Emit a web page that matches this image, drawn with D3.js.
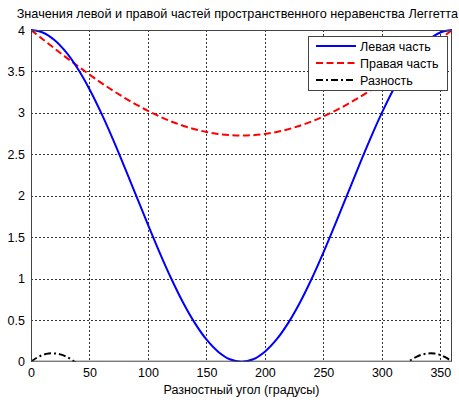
<!DOCTYPE html>
<html><head><meta charset="utf-8">
<script src="https://cdn.jsdelivr.net/npm/d3@7"></script>
<style>
html,body{margin:0;padding:0;background:#fff;}
svg{display:block;font-family:"Liberation Sans",Arial,sans-serif;}
</style></head>
<body><svg id="c" width="459" height="400"></svg>
<script>
const titleText = "Значения левой и правой частей пространственного неравенства Леггетта";
const xLabel = "Разностный угол (градусы)";
const seriesNames = ["Левая часть","Правая часть","Разность"];
const xTicks = [0,50,100,150,200,250,300,350];
const yTicks = [0,0.5,1,1.5,2,2.5,3,3.5,4];

const angles = [0,10,20,30,40,50,60,70,80,90,100,110,120,130,140,150,160,170,180,
  190,200,210,220,230,240,250,260,270,280,290,300,310,320,330,340,350,360];
const leftVals = [4,3.970,3.879,3.732,3.532,3.286,3.0,2.684,2.347,2.0,1.653,1.316,1.0,0.714,0.468,0.268,0.121,0.030,0,
  0.030,0.121,0.268,0.468,0.714,1.0,1.316,1.653,2.0,2.347,2.684,3.0,3.286,3.532,3.732,3.879,3.970,4];
const rightVals = [4,3.889,3.779,3.670,3.565,3.462,3.363,3.270,3.182,3.100,3.025,2.957,2.897,2.846,2.804,2.770,2.746,2.732,2.727,
  2.732,2.746,2.770,2.804,2.846,2.897,2.957,3.025,3.100,3.182,3.270,3.363,3.462,3.565,3.670,3.779,3.889,4];
const diffAngles = [0,5,10,15,20,25,30,35,40,45,50,60,70,80,90,100,110,120,130,140,150,160,170,180,
  190,200,210,220,230,240,250,260,270,280,290,300,310,315,320,325,330,335,340,345,350,355,360];
const diffVals = [0,0.048,0.081,0.098,0.100,0.088,0.062,0.021,-0.033,-0.099,-0.176,-0.363,-0.586,-0.835,-1.100,-1.372,-1.641,-1.897,-2.132,-2.336,-2.502,-2.625,-2.702,-2.727,
  -2.702,-2.625,-2.502,-2.336,-2.132,-1.897,-1.641,-1.372,-1.100,-0.835,-0.586,-0.363,-0.176,-0.099,-0.033,0.021,0.062,0.088,0.100,0.098,0.081,0.048,0];

const L=31, R=452, T=30, B=361.7;
const svg = d3.select("#c");
const x = d3.scaleLinear().domain([0,360]).range([L,R]);
const y = d3.scaleLinear().domain([0,4]).range([B,T]);
const FS = "12.5px";

// grid
const grid = svg.append("g");
grid.selectAll("line.gx").data(xTicks.filter(d=>d>0 && d<360)).enter().append("line")
  .attr("x1",d=>Math.round(x(d))+0.5).attr("x2",d=>Math.round(x(d))+0.5).attr("y1",T).attr("y2",B)
  .attr("stroke","#333").attr("stroke-width",1).attr("stroke-dasharray","2,2");
grid.selectAll("line.gy").data(yTicks.filter(d=>d>0 && d<4)).enter().append("line")
  .attr("y1",d=>Math.round(y(d))+0.5).attr("y2",d=>Math.round(y(d))+0.5).attr("x1",L).attr("x2",R)
  .attr("stroke","#333").attr("stroke-width",1).attr("stroke-dasharray","2,2");

// axes
const xAxis = d3.axisBottom(x).tickValues(xTicks).tickSize(0).tickPadding(6);
const gx = svg.append("g").attr("transform",`translate(0,${B})`).call(xAxis);
gx.select(".domain").remove();
gx.selectAll("text").attr("font-size",FS).attr("font-family","Liberation Sans, Arial").attr("fill","#000");
const yAxis = d3.axisLeft(y).tickValues(yTicks).tickSize(0).tickPadding(6).tickFormat(d3.format("~g"));
const gy = svg.append("g").attr("transform",`translate(${L},0)`).call(yAxis);
gy.select(".domain").remove();
gy.selectAll("text").attr("font-size",FS).attr("font-family","Liberation Sans, Arial").attr("fill","#000");

// clip
svg.append("clipPath").attr("id","clip").append("rect").attr("x",L).attr("y",T-2).attr("width",R-L).attr("height",B-T+2);

const line = d3.line().x(d=>x(d[0])).y(d=>y(d[1])).curve(d3.curveCatmullRom.alpha(0.5));
const plot = svg.append("g").attr("clip-path","url(#clip)");
plot.append("path").datum(angles.map((a,i)=>[a,rightVals[i]])).attr("d",line)
  .attr("fill","none").attr("stroke","#ff0000").attr("stroke-width",2).attr("stroke-dasharray","7,3.5");
plot.append("path").datum(angles.map((a,i)=>[a,leftVals[i]])).attr("d",line)
  .attr("fill","none").attr("stroke","#0000ff").attr("stroke-width",2);
plot.append("path").datum(diffAngles.map((a,i)=>[a,diffVals[i]])).attr("d",line)
  .attr("fill","none").attr("stroke","#000").attr("stroke-width",2).attr("stroke-dasharray","7,3,2,3");

// box
svg.append("rect").attr("x",L+0.5).attr("y",T+0.5).attr("width",R-L-1).attr("height",B-T-1)
  .attr("fill","none").attr("stroke","#444").attr("stroke-width",1);

// title & labels
const title = svg.append("text").attr("y",18).attr("font-size","12.7px").attr("fill","#000").text(titleText);
const tw = title.node().getComputedTextLength();
title.attr("x", Math.max(1, Math.min(20, 458 - tw)));
svg.append("text").attr("x",(L+R)/2).attr("y",394).attr("text-anchor","middle")
  .attr("font-size",FS).attr("fill","#000").text(xLabel);

// legend
const lg = svg.append("g");
lg.append("rect").attr("x",308.5).attr("y",36.5).attr("width",139).attr("height",54)
  .attr("fill","#fff").attr("stroke","#444").attr("stroke-width",1);
const lstyles = [{c:"#0000ff",d:null},{c:"#ff0000",d:"7,3.5"},{c:"#000",d:"7,3,2,3"}];
const rowsY = [46,63,80];
seriesNames.forEach((n,i)=>{
  lg.append("line").attr("x1",316).attr("x2",356).attr("y1",rowsY[i]).attr("y2",rowsY[i])
    .attr("stroke",lstyles[i].c).attr("stroke-width",2).attr("stroke-dasharray",lstyles[i].d);
  lg.append("text").attr("x",360).attr("y",rowsY[i]+4.5).attr("font-size",FS).attr("fill","#000").text(n);
});
</script></body></html>
